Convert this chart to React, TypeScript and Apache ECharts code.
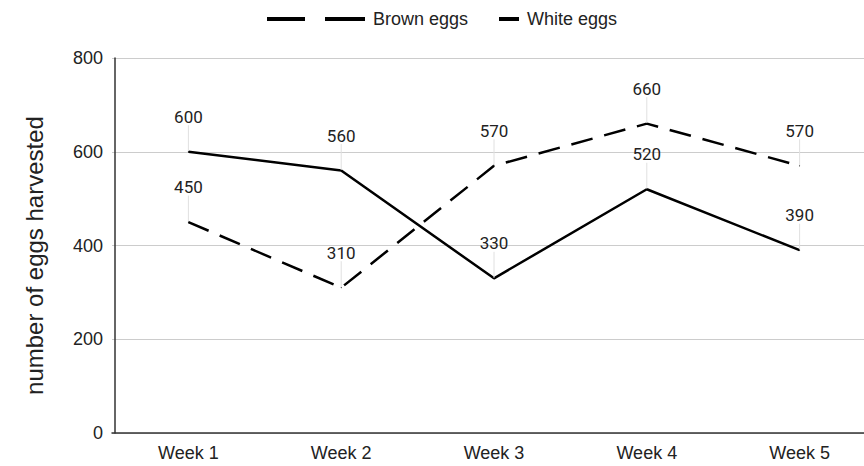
import React, { useEffect, useRef } from "react";
import * as echarts from "echarts";

const categories = ["Week 1", "Week 2", "Week 3", "Week 4", "Week 5"];
const brownEggs = [450, 310, 570, 660, 570];
const whiteEggs = [600, 560, 330, 520, 390];
const yTicks = { min: 0, max: 800, interval: 200 };
const yAxisTitle = "number of eggs harvested";

export default function App() {
  const ref = useRef<HTMLDivElement>(null);
  useEffect(() => {
    if (!ref.current) return;
    const chart = echarts.init(ref.current, null, { renderer: "svg" });
    const labelCfg = {
      show: true,
      position: "top",
      distance: 4,
      color: "#222",
      fontFamily: "Roboto",
      fontSize: 17,
    };
    const legendText = {
      fontFamily: "Liberation Sans",
      fontSize: 18,
      color: "#222",
      padding: [0, 0, 0, 3],
    };
    chart.setOption({
      animation: false,
      backgroundColor: "#fff",
      legend: [
        {
          data: ["Brown eggs"],
          left: 262,
          top: 5,
          itemWidth: 98,
          itemHeight: 14,
          icon: "path://M0,5 L38,5 L38,9 L0,9 Z M58,5 L98,5 L98,9 L58,9 Z",
          itemStyle: { color: "#000" },
          textStyle: legendText,
        },
        {
          data: ["White eggs"],
          left: 494,
          top: 5,
          itemWidth: 20,
          itemHeight: 14,
          icon: "path://M0,5 L20,5 L20,9 L0,9 Z",
          itemStyle: { color: "#000" },
          textStyle: legendText,
        },
      ],
      grid: { left: 112, right: 0, top: 58, bottom: 33 },
      xAxis: {
        type: "category",
        data: categories,
        boundaryGap: true,
        axisLine: { lineStyle: { color: "#333", width: 1.5 } },
        axisTick: { show: false },
        axisLabel: { fontFamily: "Liberation Sans", fontSize: 18, color: "#222", margin: 11 },
      },
      yAxis: {
        type: "value",
        min: yTicks.min,
        max: yTicks.max,
        interval: yTicks.interval,
        offset: -3,
        name: yAxisTitle,
        nameLocation: "middle",
        nameGap: 69,
        nameTextStyle: {
          fontFamily: "Liberation Sans",
          fontSize: 24,
          color: "#222",
          padding: [0, 20, 0, 0],
        },
        axisLine: { show: true, lineStyle: { color: "#333", width: 1.5 } },
        axisTick: { show: false },
        splitLine: { lineStyle: { color: "#ccc", width: 1 } },
        axisLabel: { fontFamily: "Liberation Sans", fontSize: 18, color: "#222", margin: 12 },
      },
      series: [
        {
          name: "Brown eggs",
          type: "line",
          data: brownEggs,
          symbol: "circle",
          symbolSize: 1,
          itemStyle: { color: "#000" },
          lineStyle: { color: "#000", width: 2.5, type: [22, 12] },
          label: labelCfg,
          labelLayout: { dy: -22 },
          labelLine: { show: true, lineStyle: { color: "#e0e0e0", width: 1 } },
        },
        {
          name: "White eggs",
          type: "line",
          data: whiteEggs,
          symbol: "circle",
          symbolSize: 1,
          itemStyle: { color: "#000" },
          lineStyle: { color: "#000", width: 2.5 },
          label: labelCfg,
          labelLayout: { dy: -22 },
          labelLine: { show: true, lineStyle: { color: "#e0e0e0", width: 1 } },
        },
      ],
    });
    return () => chart.dispose();
  }, []);
  return (
    <div
      style={{
        position: "absolute",
        left: 0,
        top: 0,
        width: 864,
        height: 466,
        overflow: "hidden",
      }}
    >
      <div ref={ref} style={{ width: 876, height: 466 }} />
    </div>
  );
}
